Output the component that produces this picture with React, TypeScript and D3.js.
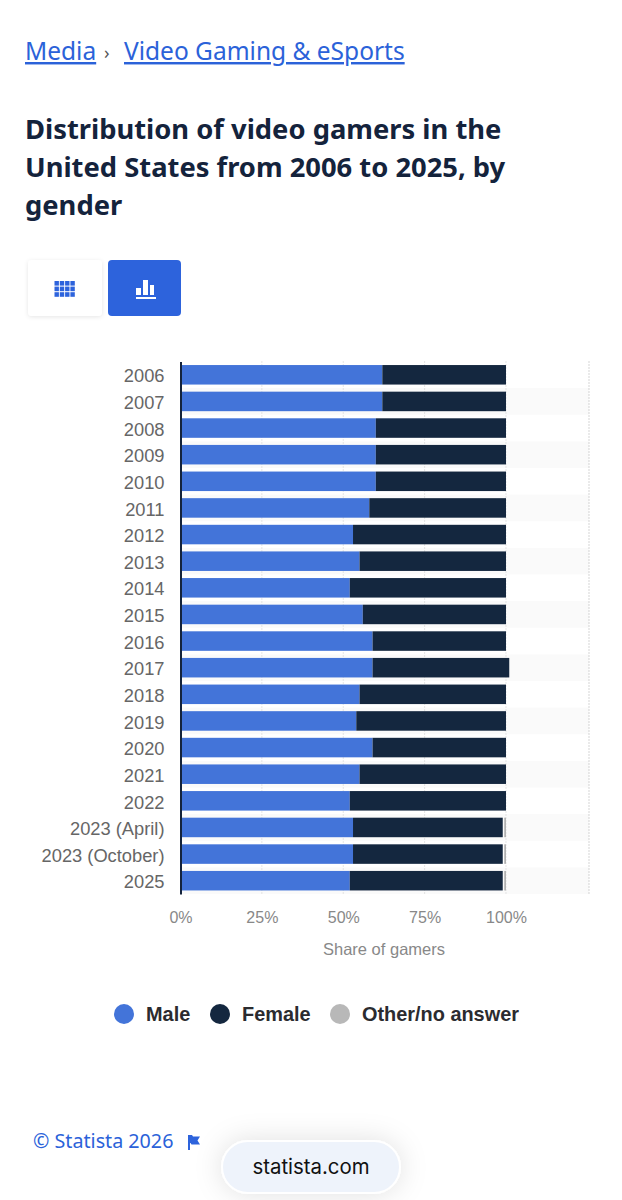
import { useEffect, useRef } from 'react';
import * as d3 from 'd3';

const years = ['2006', '2007', '2008', '2009', '2010', '2011', '2012', '2013', '2014', '2015', '2016', '2017', '2018', '2019', '2020', '2021', '2022', '2023 (April)', '2023 (October)', '2025'];
const male = [62, 62, 60, 60, 60, 58, 53, 55, 52, 56, 59, 59, 55, 54, 59, 55, 52, 53, 53, 52];
const female = [38, 38, 40, 40, 40, 42, 47, 45, 48, 44, 41, 42, 45, 46, 41, 45, 48, 46, 46, 47];
const other = [0, 0, 0, 0, 0, 0, 0, 0, 0, 0, 0, 0, 0, 0, 0, 0, 0, 1, 1, 1];
const seriesNames = ['Male', 'Female', 'Other/no answer'];
const seriesColors = ['#4374d9', '#14273f', '#b0b0b0'];
const xTicks = [0, 25, 50, 75, 100];
const gridTicks = [25, 50, 75, 100];
const axisMax = 125.5;

const uiFont = '"Noto Sans", "Open Sans", sans-serif';
const chartFont = '"Liberation Sans", Arial, sans-serif';

export default function App() {
  const svgRef = useRef<SVGSVGElement>(null);

  useEffect(() => {
    if (!svgRef.current) return;
    const svg = d3.select(svgRef.current);
    svg.selectAll('*').remove();

    const top = 361.5;
    const bottom = 894;
    const x = d3.scaleLinear().domain([0, axisMax]).range([180.5, 589]);
    const y = d3.scaleBand<string>().domain(years).range([top, bottom]).paddingInner(0.267).paddingOuter(0.133);
    const rowStep = y.step();

    // page header
    const crumbs = svg.append('g').attr('font-family', uiFont).attr('font-size', 24.5).attr('fill', '#2b62d9');
    crumbs.append('text').attr('x', 25).attr('y', 60).attr('text-decoration', 'underline').text('Media');
    crumbs.append('text').attr('x', 104).attr('y', 59).attr('font-size', 18).attr('fill', '#555').text('›');
    crumbs.append('text').attr('x', 124).attr('y', 60).attr('text-decoration', 'underline').text('Video Gaming & eSports');

    const title = svg.append('g').attr('font-family', uiFont).attr('font-size', 27.35).attr('font-weight', 700).attr('fill', '#14233c');
    ['Distribution of video gamers in the', 'United States from 2006 to 2025, by', 'gender'].forEach((line, i) => {
      title.append('text').attr('x', 25).attr('y', 139 + i * 38).text(line);
    });

    // table / chart toggle
    const defs = svg.append('defs');
    const shadow = defs.append('filter').attr('id', 'soft').attr('x', '-30%').attr('y', '-30%').attr('width', '160%').attr('height', '160%');
    shadow.append('feDropShadow').attr('dx', 0).attr('dy', 1).attr('stdDeviation', 2).attr('flood-color', '#000').attr('flood-opacity', 0.1);
    const pillShadow = defs.append('filter').attr('id', 'pill').attr('x', '-30%').attr('y', '-60%').attr('width', '160%').attr('height', '220%');
    pillShadow.append('feDropShadow').attr('dx', 0).attr('dy', 0).attr('stdDeviation', 14).attr('flood-color', '#000').attr('flood-opacity', 0.12);

    svg.append('rect').attr('x', 28).attr('y', 260).attr('width', 74).attr('height', 56).attr('rx', 4).attr('fill', '#fff').attr('filter', 'url(#soft)');
    svg.append('rect').attr('x', 108).attr('y', 260).attr('width', 73).attr('height', 56).attr('rx', 4).attr('fill', '#2d63dc');
    const grid = svg.append('g').attr('fill', '#2d63dc');
    d3.range(3).forEach(r => d3.range(4).forEach(c => {
      grid.append('rect').attr('x', 54.5 + c * 5.3).attr('y', 281 + r * 5.6).attr('width', 4.4).attr('height', 4.6);
    }));
    const barIcon = svg.append('g').attr('fill', '#fff');
    barIcon.append('rect').attr('x', 136).attr('y', 288).attr('width', 5).attr('height', 7);
    barIcon.append('rect').attr('x', 143).attr('y', 280).attr('width', 5).attr('height', 15);
    barIcon.append('rect').attr('x', 150).attr('y', 285).attr('width', 4).attr('height', 10);
    barIcon.append('rect').attr('x', 136).attr('y', 297).attr('width', 20).attr('height', 2);

    // alternating row background
    svg.append('g').selectAll('rect')
      .data(years.filter((_, i) => i % 2 === 1))
      .join('rect')
      .attr('x', x(0))
      .attr('width', x(axisMax) - x(0))
      .attr('y', d => (y(d) as number) - (rowStep - y.bandwidth()) / 2)
      .attr('height', rowStep)
      .attr('fill', '#fafafa');

    // dotted grid lines
    svg.append('g').selectAll('line')
      .data(gridTicks)
      .join('line')
      .attr('x1', d => x(d))
      .attr('x2', d => x(d))
      .attr('y1', top)
      .attr('y2', bottom)
      .attr('stroke', '#ccc')
      .attr('stroke-dasharray', '1,2');
    svg.append('line')
      .attr('x1', x(axisMax))
      .attr('x2', x(axisMax))
      .attr('y1', top)
      .attr('y2', bottom)
      .attr('stroke', '#aaa')
      .attr('stroke-dasharray', '1,2');

    // stacked bars, the grey one sits a little apart from the female one
    const rows = years.map((year, i) => ({ year, Male: male[i], Female: female[i], 'Other/no answer': other[i] }));
    const stacked = d3.stack<any>().keys(seriesNames)(rows);
    const gaps = [0.5, 0, 1.5];
    stacked.forEach((layer, s) => {
      svg.append('g').selectAll('rect')
        .data(layer.filter(d => d[1] > d[0]))
        .join('rect')
        .attr('x', d => x(d[0]) + gaps[s])
        .attr('width', d => Math.max(x(d[1]) - x(d[0]) - gaps[s], 0))
        .attr('y', d => y(d.data.year) as number)
        .attr('height', y.bandwidth())
        .attr('fill', seriesColors[s]);
    });

    // y axis
    const yAxis = svg.append('g')
      .attr('transform', `translate(${x(0)},0)`)
      .call(d3.axisLeft(y).tickSize(0).tickPadding(16));
    yAxis.select('.domain').attr('stroke', '#14233c').attr('stroke-width', 2);
    yAxis.selectAll('text').attr('font-family', chartFont).attr('font-size', 18.3).attr('fill', '#666').attr('dy', '0.42em');

    // x axis
    const xAxis = svg.append('g')
      .attr('transform', `translate(0,${bottom})`)
      .call(d3.axisBottom(x).tickValues(xTicks).tickSize(0).tickPadding(18).tickFormat(d => `${d}%`));
    xAxis.select('.domain').remove();
    xAxis.selectAll('text').attr('font-family', chartFont).attr('font-size', 16).attr('fill', '#888');

    svg.append('text')
      .attr('x', 384)
      .attr('y', 955)
      .attr('text-anchor', 'middle')
      .attr('font-family', chartFont)
      .attr('font-size', 16.5)
      .attr('fill', '#888')
      .text('Share of gamers');

    // legend
    const legendX = [124, 220, 340];
    const legend = svg.append('g').selectAll('g')
      .data(seriesNames)
      .join('g')
      .attr('transform', (_, i) => `translate(${legendX[i]},1014)`);
    legend.append('circle').attr('r', 10).attr('fill', (_, i) => seriesColors[i] === '#b0b0b0' ? '#b8b8b8' : seriesColors[i]);
    legend.append('text')
      .attr('x', 22)
      .attr('y', 7)
      .attr('font-family', chartFont)
      .attr('font-size', 19.9)
      .attr('font-weight', 700)
      .attr('fill', '#2b2b2f')
      .text(d => d);

    // footer
    svg.append('text').attr('x', 33).attr('y', 1148).attr('font-family', uiFont).attr('font-size', 19.7).attr('fill', '#2b62d9').text('© Statista 2026');
    svg.append('path').attr('d', 'M188 1135h4l1 1.5h7l-2.5 4 2.5 4h-8.5l-1-1.5h-0.5v7h-2z').attr('fill', '#2d63dc');

    svg.append('rect').attr('x', 222).attr('y', 1141).attr('width', 178).attr('height', 52).attr('rx', 26)
      .attr('fill', '#eef3fb').attr('stroke', '#fff').attr('stroke-width', 2).attr('filter', 'url(#pill)');
    svg.append('text').attr('x', 311).attr('y', 1174).attr('text-anchor', 'middle').attr('font-family', '"Inter", "Liberation Sans", sans-serif').attr('font-size', 20.4).attr('fill', '#111').text('statista.com');
  }, []);

  return (
    <svg
      ref={svgRef}
      width={622}
      height={1200}
      viewBox="0 0 622 1200"
      style={{ position: 'absolute', left: 0, top: 0, background: '#fff' }}
    />
  );
}
